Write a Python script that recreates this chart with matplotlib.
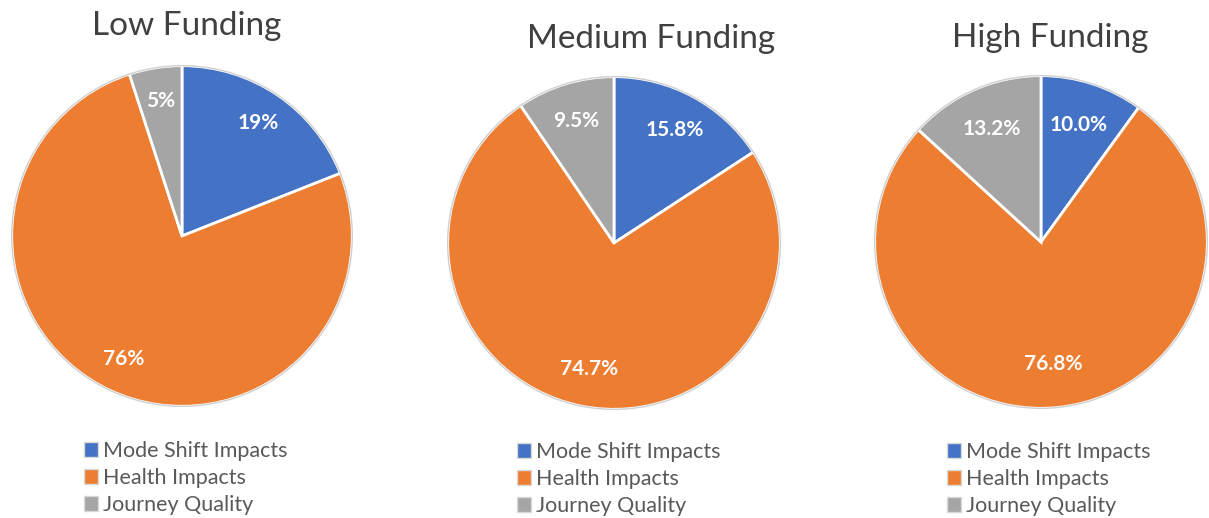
import matplotlib.pyplot as plt
from matplotlib.patches import Patch, Circle

categories = ['Mode Shift Impacts', 'Health Impacts', 'Journey Quality']
titles = ['Low Funding', 'Medium Funding', 'High Funding']
low = [19, 76, 5]
medium = [15.8, 74.7, 9.5]
high = [10.0, 76.8, 13.2]
label_fmt = ['%.0f%%', '%.1f%%', '%.1f%%']

colors = ['#4472C4', '#ED7D31', '#A5A5A5']

W, H = 1209, 518
fig = plt.figure(figsize=(W / 100, H / 100), dpi=100)
plt.rcParams['font.family'] = ['Lato', 'DejaVu Sans']

# pixel layout: pie centre x, centre y, radius, title x, title y, legend x, legend y, pct distance
layout = [
    (182, 236, 172, 187, 26, 84, 441, 0.80),
    (614, 243, 168, 651, 39, 517, 442, 0.77),
    (1041, 242, 168, 1050, 38, 947, 442, 0.74),
]

for vals, title, fmt, (cx, cy, r, tx, ty, lx, ly, pd) in zip(
        [low, medium, high], titles, label_fmt, layout):
    ax = fig.add_axes([(cx - r) / W, 1 - (cy + r) / H, 2 * r / W, 2 * r / H])
    wedges, texts, autotexts = ax.pie(
        vals, colors=colors, startangle=90, counterclock=False,
        autopct=fmt, pctdistance=pd,
        wedgeprops=dict(edgecolor='white', linewidth=2),
        textprops=dict(color='white', fontsize=15, fontweight='bold'))
    ax.add_patch(Circle((0, 0), 1.0, fill=False, edgecolor='#d0d0d0', linewidth=1))
    ax.set_xlim(-1.01, 1.01)
    ax.set_ylim(-1.01, 1.01)
    ax.axis('off')

    fig.text(tx / W, 1 - ty / H, title, ha='center', va='center',
             fontsize=24, color='#404040')

    handles = [Patch(facecolor=c, edgecolor='#d9d9d9', linewidth=1) for c in colors]
    ax.legend(handles, categories, loc='upper left',
              bbox_to_anchor=(lx / W, 1 - ly / H), bbox_transform=fig.transFigure,
              frameon=False, fontsize=15.5, labelcolor='#595959',
              handlelength=0.65, handleheight=0.65, handletextpad=0.25,
              labelspacing=0.33, borderpad=0, borderaxespad=0)

fig.savefig('out.png', dpi=100, facecolor='white')
